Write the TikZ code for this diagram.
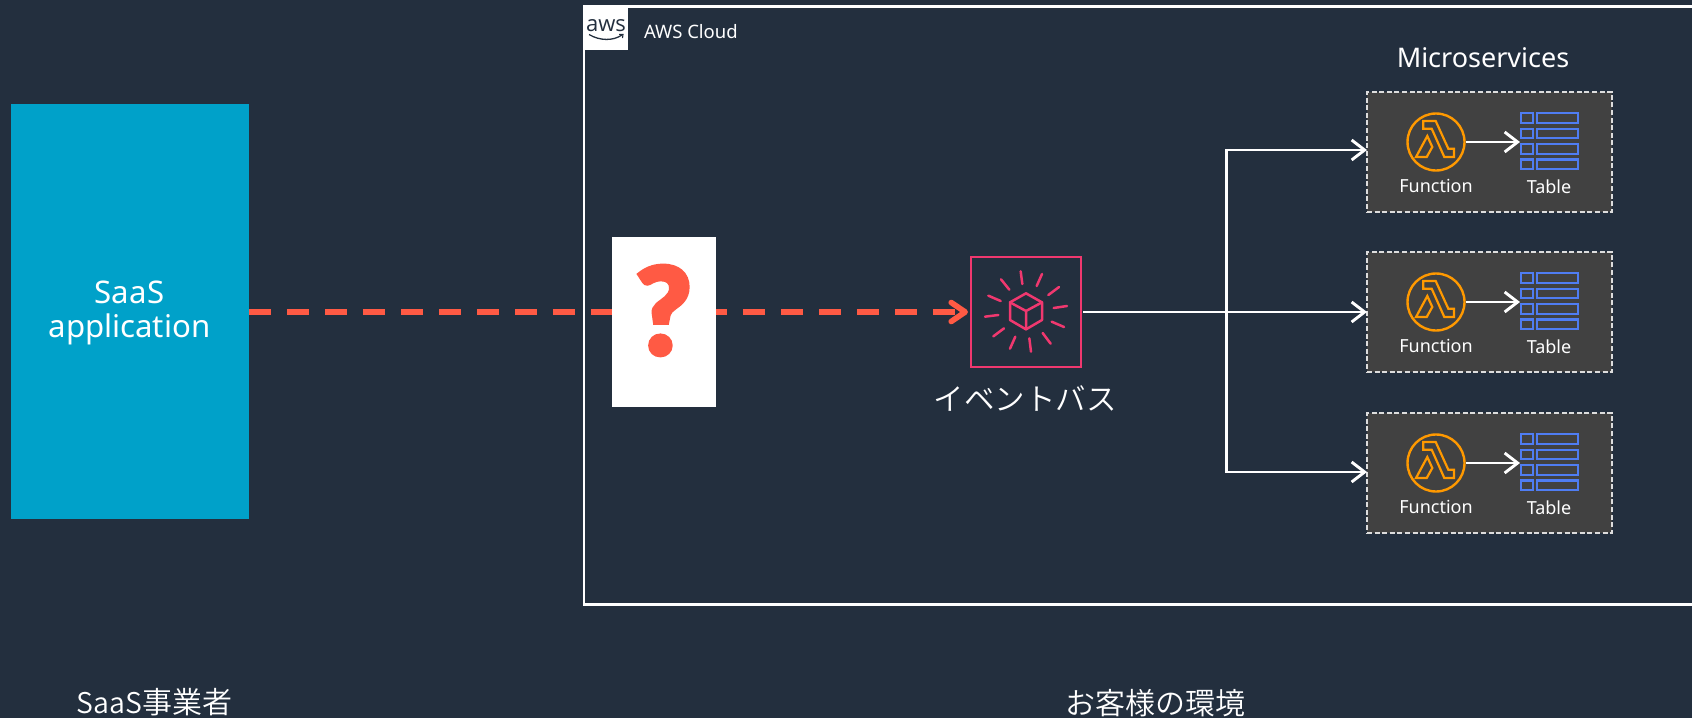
\documentclass[tikz,border=0pt]{standalone}
\usepackage{fontspec}
\setmainfont{Noto Sans}
\newfontfamily\jp{Noto Sans CJK JP}[UprightFont=* DemiLight]
\newfontfamily\logofont{Open Sans}
\newfontfamily\qfont{Lato}[UprightFont=* Black,FakeBold=2.5]
\usetikzlibrary{arrows.meta,calc}
\definecolor{bg}{HTML}{232F3E}
\definecolor{saasblue}{HTML}{00A1C9}
\definecolor{redline}{HTML}{FF5A44}
\definecolor{buspink}{HTML}{F0386F}
\definecolor{groupgrey}{HTML}{414141}
\definecolor{dashgrey}{HTML}{DDDDDD}
\definecolor{lamorange}{HTML}{FF9900}
\definecolor{tableblue}{HTML}{4F7DF3}
\tikzset{
  label/.style={text=white,inner sep=0pt,outer sep=0pt,anchor=base},
  wire/.style={draw=white,line width=2.9pt},
  wirearrow/.style={wire,-{Straight Barb[length=13pt,width=20pt,line width=2.9pt]}},
  grouped/.style={draw=dashgrey,fill=groupgrey,line width=1.7pt,dash pattern=on 5pt off 2.6pt,
     minimum width=245pt,minimum height=120pt,inner sep=0pt,outer sep=0pt},
  fncircle/.style={circle,draw=lamorange,line width=2.4pt,minimum size=57pt,inner sep=0pt,outer sep=0pt},
  lamline/.style={draw=lamorange,line width=2.2pt,line join=miter},
  tablecell/.style={draw=tableblue,line width=2.2pt},
  tablenode/.style={minimum width=59pt,minimum height=58pt,inner sep=0pt,outer sep=0pt},
}
\begin{document}
\begin{tikzpicture}[x=1pt,y=-1pt]
\useasboundingbox (0,0) rectangle (1692,718);
\fill[bg] (0,0) rectangle (1692,718);

% AWS cloud frame
\node[draw=white,line width=2.5pt,anchor=north west,minimum width=1200pt,minimum height=598pt,inner sep=0pt,outer sep=0pt] (cloud) at (584,6.3) {};
\node[fill=white,anchor=north west,minimum width=45pt,minimum height=44pt,inner sep=0pt,outer sep=0pt] (logo) at (583,6) {};
\node[inner sep=0pt,text=bg,anchor=base] (awstext) at (606,31) {\logofont\fontsize{22}{22}\selectfont aws};
\draw[bg,line width=1.3pt] (589,34.5) .. controls (600,41) and (613,41) .. (622,35);
\draw[bg,line width=1.1pt] (619,34.5) -- (623,34.5) -- (622.5,38);
\node[label,anchor=base west] (cloudtitle) at (644,38.5) {\fontsize{18.5}{18.5}\selectfont AWS Cloud};

% SaaS
\node[fill=saasblue,anchor=north west,minimum width=238pt,minimum height=415pt,inner sep=0pt,outer sep=0pt] (saas) at (11,104) {};
\node[label] (saas1) at (129.5,303) {\fontsize{31.2}{31.2}\selectfont SaaS};
\node[label] (saas2) at (129.5,337) {\fontsize{31.2}{31.2}\selectfont application};

% Event bus
\node[draw=buspink,line width=2.4pt,minimum width=110pt,minimum height=110.5pt,inner sep=0pt,outer sep=0pt] (bus) at (1026,312) {};
\begin{scope}[shift={(940,240)},x=1/3*1pt,y=-1/3*1pt,buspink,line width=2.5pt,line cap=round,line join=round]
  \foreach \ax/\ay/\bx/\by in {242/94/247/132,306/102/290/138,357/141/325/165,381/198/341/204,372/261/335/245,332/311/308/279,273/335/268/295,210/326/226/290,160/289/192/265,135/230/175/225,145/167/182/183,183/118/208/149}
    \draw (\ax,\ay) -- (\bx,\by);
  \draw (258,160) -- (306,187) -- (306,240) -- (258,268) -- (210,240) -- (210,187) -- cycle;
  \draw (210,187) -- (258,213) -- (306,187) (258,213) -- (258,268);
\end{scope}
\node[label] (buslabel) at (1025,410) {\jp\fontsize{30.5}{30.5}\selectfont イベントバス};

% Connectors
\coordinate (fork) at (1226.3,312);
\draw[draw=redline,line width=5.6pt,dash pattern=on 22pt off 16pt,shorten >=3pt,
  -{Straight Barb[length=14pt,width=19pt,line width=5.6pt,round]}] (saas.east |- bus.west) -- (bus.west);
\draw[wire,shorten <=2pt] (bus.east) -- (fork);

% Question box
\node[fill=white,anchor=north west,minimum width=104pt,minimum height=170pt,inner sep=0pt,outer sep=0pt] (qbox) at (612,237) {};
\node[inner sep=0pt,text=redline,anchor=base] (qmark) at (663.5,355) {\qfont\fontsize{122}{122}\selectfont ?};

% Microservices
\node[label] (msvc) at (1483,67) {\fontsize{27}{27}\selectfont Microservices};
\foreach \i/\top in {1/92,2/252,3/413}{
  \node[grouped,anchor=north west] (box\i) at (1367,\top) {};
  \node[fncircle] (fn\i) at (1436,\top+50) {};
  \begin{scope}[shift={(fn\i.center)},lamline]
    \draw (-12.7,-21) -- (-0.3,-21) -- (12.3,6.7) -- (18,6.7) -- (18,15) -- (8.3,15) -- (-4.3,-13.3) -- (-12.7,-13.3) -- cycle;
    \draw (-8.7,-6) -- (-3.7,5) -- (-9.3,15) -- (-20,15) -- cycle;
  \end{scope}
  \node[tablenode,anchor=north west] (tb\i) at (1520,\top+20) {};
  \begin{scope}[shift={(tb\i.north west)}]
    \foreach \ra/\rb in {1.1/11.2,16.8/26.2,32.1/41.6,47.4/57.2}{
      \draw[tablecell] (1.1,\ra) rectangle (12.6,\rb);
      \draw[tablecell] (16.8,\ra) rectangle (57.9,\rb);
    }
  \end{scope}
  \draw[wirearrow,line width=2.6pt,shorten <=1pt] (fn\i.east) -- (tb\i.west |- fn\i.east);
  \node[label] (fnlabel\i) at (1436,\top+100.7) {\fontsize{18}{18}\selectfont Function};
  \node[label] (tblabel\i) at (1549,\top+101.2) {\fontsize{18}{18}\selectfont Table};
}
\draw[wirearrow] (fork) |- ([yshift=2pt]box1.west);
\draw[wirearrow] (fork) -- (fork -| box2.west);
\draw[wirearrow] (fork) |- ([yshift=1pt]box3.west);

% Bottom labels
\node[label] (vendor) at (154.5,713.5) {\jp\fontsize{28.5}{28.5}\selectfont SaaS\fontsize{30}{30}\selectfont 事業者};
\node[label] (customer) at (1155.5,714) {\jp\fontsize{30}{30}\selectfont お客様の環境};
\end{tikzpicture}
\end{document}
